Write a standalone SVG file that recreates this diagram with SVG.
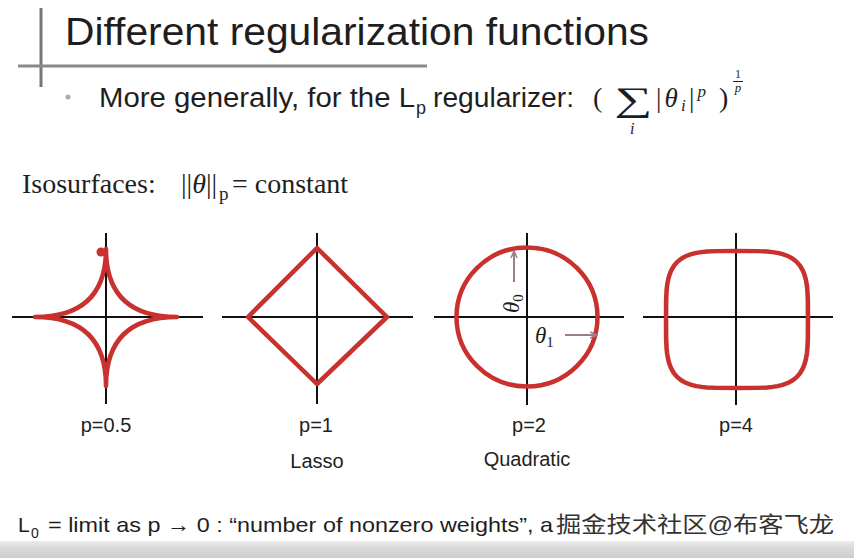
<svg xmlns="http://www.w3.org/2000/svg" width="854" height="558" viewBox="0 0 854 558">
<defs>
<style>
.sans{font-family:"Liberation Sans",Arial,sans-serif;fill:#1e1e1e}
.serif{font-family:"Liberation Serif","DejaVu Serif",serif;fill:#1e1e1e}
.axis{stroke:#111;stroke-width:2;fill:none}
.iso{stroke:#c8312d;stroke-width:4.5;fill:none;stroke-linejoin:round}
.lbl{font-family:"Liberation Sans",Arial,sans-serif;font-size:20px;fill:#222;text-anchor:middle}
.ann{stroke:#9c7d88;stroke-width:2;fill:none}
</style>
<linearGradient id="band" x1="0" y1="0" x2="0" y2="1">
<stop offset="0" stop-color="#ececec"/>
<stop offset="0.4" stop-color="#d9d9d9"/>
<stop offset="1" stop-color="#cfcfcf"/>
</linearGradient>
<marker id="ah" markerWidth="8" markerHeight="8" refX="7" refY="4" orient="auto" markerUnits="userSpaceOnUse">
<path d="M0,1 L7,4 L0,7" fill="none" stroke="#9c7d88" stroke-width="1.5"/>
</marker>
</defs>
<rect width="854" height="558" fill="#ffffff"/>
<rect x="0" y="541" width="854" height="17" fill="url(#band)"/>

<g id="header">
<line x1="41" y1="8" x2="41" y2="87" stroke="#777" stroke-width="3"/>
<line x1="18" y1="66" x2="427" y2="66" stroke="#8a8a8a" stroke-width="3"/>
<text x="65" y="45" class="sans" font-size="38" textLength="584" lengthAdjust="spacingAndGlyphs">Different regularization functions</text>
</g>

<g id="subtitle">
<circle cx="68" cy="97" r="2.5" fill="#aaa"/>
<text x="99" y="107" class="sans" font-size="27" textLength="316" lengthAdjust="spacingAndGlyphs">More generally, for the L</text>
<text x="416" y="114" class="sans" font-size="18">p</text>
<text x="433" y="107" class="sans" font-size="27" textLength="141" lengthAdjust="spacingAndGlyphs">regularizer:</text>
<text x="593" y="107" class="serif" font-size="28">(</text>
<text x="614" y="111" class="serif" font-size="34" textLength="38" lengthAdjust="spacingAndGlyphs">∑</text>
<text x="630" y="134" class="serif" font-size="16" font-style="italic">i</text>
<text x="656" y="107" class="serif" font-size="27" textLength="50" lengthAdjust="spacing">|<tspan font-style="italic">θ</tspan><tspan font-style="italic" font-size="17" dy="4">i</tspan><tspan dy="-4">|</tspan><tspan font-style="italic" font-size="17" dy="-10">p</tspan></text>
<text x="719" y="107" class="serif" font-size="28">)</text>
<text x="738" y="78" class="serif" font-size="12" text-anchor="middle">1</text>
<line x1="733" y1="81.5" x2="743" y2="81.5" stroke="#1e1e1e" stroke-width="1"/>
<text x="738" y="92" class="serif" font-size="13" font-style="italic" text-anchor="middle">p</text>
</g>

<g id="isosurfaces">
<text x="22" y="193" class="serif" font-size="28">Isosurfaces:</text>
<text x="181" y="193" class="serif" font-size="28">||<tspan font-style="italic">θ</tspan>||</text>
<text x="219" y="200" class="serif" font-size="19">p</text>
<text x="232" y="193" class="serif" font-size="28">= constant</text>
</g>

<g id="plot-p05">
<line class="axis" x1="12" y1="317" x2="203" y2="317"/>
<line class="axis" x1="106" y1="233" x2="106" y2="404"/>
<path class="iso" d="M177,317 Q106,317 106,249 Q106,317 35,317 Q106,317 106,386 Q106,317 177,317 Z"/>
<circle cx="101" cy="252" r="4.5" fill="#c8312d"/>
<text class="lbl" x="106" y="432">p=0.5</text>
</g>

<g id="plot-p1">
<line class="axis" x1="222" y1="317" x2="413" y2="317"/>
<line class="axis" x1="317" y1="233" x2="317" y2="404"/>
<polygon class="iso" points="317,248 387,317 317,384 248,317"/>
<text class="lbl" x="316" y="432">p=1</text>
<text class="lbl" x="317" y="468">Lasso</text>
</g>

<g id="plot-p2">
<line class="axis" x1="434" y1="317" x2="624" y2="317"/>
<line class="axis" x1="527" y1="233" x2="527" y2="405"/>
<ellipse class="iso" cx="527" cy="317" rx="70.5" ry="69.5"/>
<line class="ann" x1="514" y1="282" x2="514" y2="251" marker-end="url(#ah)"/>
<text x="0" y="0" class="serif" font-size="23" font-style="italic" transform="translate(519,313) rotate(-90)">θ<tspan font-style="normal" font-size="15" dy="4">0</tspan></text>
<text x="535" y="343" class="serif" font-size="23" font-style="italic">θ<tspan font-style="normal" font-size="15" dy="4">1</tspan></text>
<line class="ann" x1="565" y1="335" x2="597" y2="335" marker-end="url(#ah)"/>
<text class="lbl" x="529" y="432">p=2</text>
<text class="lbl" x="527" y="466">Quadratic</text>
</g>

<g id="plot-p4">
<line class="axis" x1="643" y1="317" x2="833" y2="317"/>
<line class="axis" x1="736" y1="233" x2="736" y2="405"/>
<path class="iso" transform="translate(737,319.5) scale(1.014,0.979)" d="M70,0 L69.88,-20 L69.4,-30 L68.88,-35 L68.06,-40 L66.8,-45 L64.92,-50 L62.09,-55 L58.86,-58.86 L55,-62.09 L50,-64.92 L45,-66.8 L40,-68.06 L35,-68.88 L30,-69.4 L20,-69.88 L0,-70 L-20,-69.88 L-30,-69.4 L-35,-68.88 L-40,-68.06 L-45,-66.8 L-50,-64.92 L-55,-62.09 L-58.86,-58.86 L-62.09,-55 L-64.92,-50 L-66.8,-45 L-68.06,-40 L-68.88,-35 L-69.4,-30 L-69.88,-20 L-70,0 L-69.88,20 L-69.4,30 L-68.88,35 L-68.06,40 L-66.8,45 L-64.92,50 L-62.09,55 L-58.86,58.86 L-55,62.09 L-50,64.92 L-45,66.8 L-40,68.06 L-35,68.88 L-30,69.4 L-20,69.88 L0,70 L20,69.88 L30,69.4 L35,68.88 L40,68.06 L45,66.8 L50,64.92 L55,62.09 L58.86,58.86 L62.09,55 L64.92,50 L66.8,45 L68.06,40 L68.88,35 L69.4,30 L69.88,20 Z"/>
<text class="lbl" x="736" y="432">p=4</text>
</g>

<g id="footer">
<text x="18" y="532" class="sans" font-size="21">L</text>
<text x="31" y="538" class="sans" font-size="14">0</text>
<text x="48" y="532" class="sans" font-size="21" textLength="505" lengthAdjust="spacingAndGlyphs">= limit as p → 0 :  “number of nonzero weights”, a</text>
<text x="556" y="532" font-family="'Liberation Sans','Noto Sans CJK SC',sans-serif" font-size="22" fill="#333" textLength="278" lengthAdjust="spacingAndGlyphs">掘金技术社区@布客飞龙</text>
</g>
</svg>
